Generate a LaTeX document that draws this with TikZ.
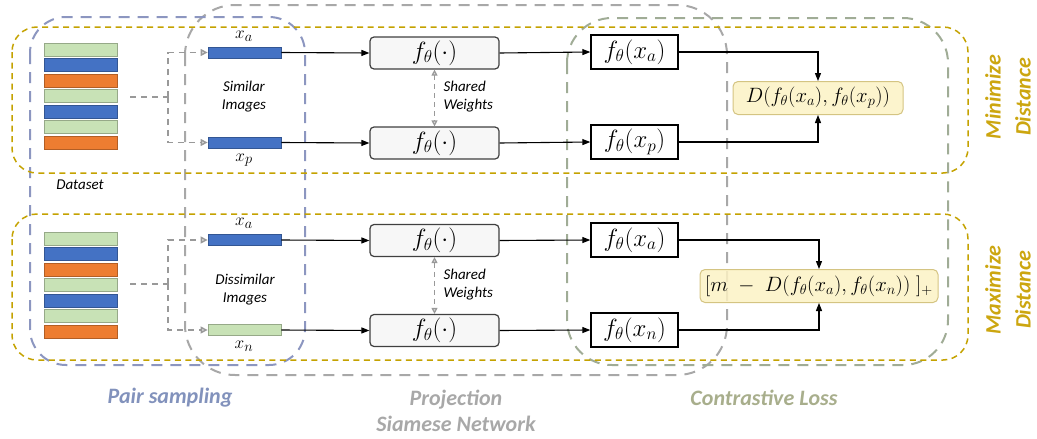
\documentclass[tikz,border=0pt]{standalone}
\usepackage{fontspec}
\setmainfont{Carlito}
\usetikzlibrary{arrows.meta}

\definecolor{bandgold}{RGB}{196,162,0}
\definecolor{pairblue}{RGB}{140,150,192}
\definecolor{pairtxt}{RGB}{130,146,188}
\definecolor{projgray}{RGB}{168,168,168}
\definecolor{projtxt}{RGB}{168,168,168}
\definecolor{lossgrp}{RGB}{160,172,150}
\definecolor{losstxt}{RGB}{168,174,140}
\definecolor{sgreen}{RGB}{200,226,182}
\definecolor{sblue}{RGB}{68,114,196}
\definecolor{sorange}{RGB}{237,125,49}
\definecolor{lossfill}{RGB}{252,242,196}
\definecolor{lossedge}{RGB}{212,196,130}
\definecolor{labgold}{RGB}{204,166,16}

\begin{document}
\begin{tikzpicture}[x=1pt,y=-1pt,
  yband/.style={draw=bandgold, line width=1.5pt, dash pattern=on 6pt off 4.5pt, rounded corners=25pt},
  pairgrp/.style={draw=pairblue, line width=2pt, dash pattern=on 11pt off 8pt, rounded corners=36pt},
  projgrp/.style={draw=projgray, line width=2pt, dash pattern=on 11pt off 8pt, rounded corners=50pt},
  lossgroup/.style={draw=lossgrp, line width=2pt, dash pattern=on 11pt off 8pt, rounded corners=45pt},
  stripe/.style={minimum width=73pt, minimum height=13pt, inner sep=0pt, line width=0.8pt},
  bar/.style={minimum width=73pt, minimum height=11pt, inner sep=0pt, line width=0.8pt},
  small/.style={font=\fontsize{15}{18}\selectfont\itshape},
  vlab/.style={font=\fontsize{19}{22}\selectfont, inner sep=0pt},
  fbox/.style={draw=black!75, fill=black!3, rounded corners=4pt, line width=1.2pt,
    minimum width=129pt, minimum height=32pt, inner sep=0pt, font=\fontsize{23}{26}\selectfont},
  obox/.style={draw=black, fill=white, line width=1.3pt, minimum width=87pt,
    minimum height=34pt, inner sep=0pt, font=\fontsize{23}{26}\selectfont},
  lbox/.style={draw=lossedge, fill=lossfill, fill opacity=0.85, text opacity=1, rounded corners=5pt,
    line width=1pt, minimum height=33pt, inner sep=0pt},
  conn/.style={draw=black, line width=1.1pt, -{Triangle[length=8pt,width=6pt]}},
  dconn/.style={draw=black!40, line width=1.4pt, dash pattern=on 6pt off 5pt},
  dtip/.style={-{Triangle[open,length=7pt,width=7pt,fill=black!15]}},
  shared/.style={draw=black!40, line width=1.2pt, dash pattern=on 5pt off 4pt,
    {Triangle[open,length=6pt,width=6pt,fill=black!15]}-{Triangle[open,length=6pt,width=6pt,fill=black!15]}},
  biglab/.style={font=\fontsize{22}{26}\selectfont\bfseries\itshape, align=center},
  sidelab/.style={font=\fontsize{22}{30}\selectfont\bfseries\itshape, align=center, text=labgold, rotate=90}
]
\useasboundingbox (0,0) rectangle (1037,439);

% stage groups
\draw[projgrp] (185,5) rectangle (727,375);
\draw[lossgroup] (567,18) rectangle (948,365);
\draw[pairgrp] (30,17) rectangle (305,365);
\draw[yband] (12,27) rectangle (968,173);
\draw[yband] (12,214) rectangle (968,360);

% datasets
\foreach \c [count=\i] in {sgreen,sblue,sorange,sgreen,sblue,sgreen,sorange} {
  \node[stripe, fill=\c, draw=\c!75!black] (dsA\i) at (80.5,{49.5+15.5*(\i-1)}) {};
  \node[stripe, fill=\c, draw=\c!75!black] (dsB\i) at (80.5,{238.5+15.5*(\i-1)}) {};
}
\node[small] (dslab) at (80,185) {Dataset};

% sampled inputs
\node[bar, fill=sblue, draw=sblue!75!black] (xa1) at (244.5,52.5) {};
\node[bar, fill=sblue, draw=sblue!75!black] (xp) at (244.5,142.5) {};
\node[bar, fill=sblue, draw=sblue!75!black] (xa2) at (244.5,240) {};
\node[bar, fill=sgreen, draw=sgreen!75!black] (xn) at (244.5,330) {};
\node[vlab] (lxa1) at (244,36) {$x_a$};
\node[vlab] (lxp) at (244,160) {$x_p$};
\node[vlab] (lxa2) at (244,223) {$x_a$};
\node[vlab] (lxn) at (244,346) {$x_n$};
\node[small, align=center] (simlab) at (244,97) {Similar\\Images};
\node[small, align=center] (dislab) at (245,290) {Dissimilar\\Images};

% sampling connectors
\coordinate (dsAout) at (130,97);
\coordinate (jA) at (168,97);
\coordinate (dsBout) at (130,284);
\coordinate (jB) at (168,284);
\draw[dconn] (dsAout) -- (jA);
\draw[dconn, dtip] (jA) |- (xa1.west);
\draw[dconn, dtip] (jA) |- (xp.west);
\draw[dconn] (dsBout) -- (jB);
\draw[dconn, dtip] (jB) |- (xa2.west);
\draw[dconn, dtip] (jB) |- (xn.west);

% siamese encoders
\node[fbox] (f1) at (434.5,53) {$f_\theta(\cdot)$};
\node[fbox] (f2) at (434.5,143) {$f_\theta(\cdot)$};
\node[fbox] (f3) at (434.5,240.5) {$f_\theta(\cdot)$};
\node[fbox] (f4) at (434.5,330.5) {$f_\theta(\cdot)$};
\draw[shared] (f1.south) -- (f2.north);
\draw[shared] (f3.south) -- (f4.north);
\node[small, align=left, anchor=west] (sw1) at (440,97) {Shared\\Weights};
\node[small, align=left, anchor=west] (sw2) at (440,285) {Shared\\Weights};

% projections
\node[obox] (o1) at (634.5,52) {$f_\theta(x_a)$};
\node[obox] (o2) at (634.5,142) {$f_\theta(x_p)$};
\node[obox] (o3) at (634.5,240) {$f_\theta(x_a)$};
\node[obox] (o4) at (634.5,330) {$f_\theta(x_n)$};

% losses
\node[lbox, minimum width=170pt, font=\fontsize{21}{24}\selectfont] (L1) at (818,98) {$D(f_\theta(x_a),f_\theta(x_p))$};
\node[lbox, minimum width=238pt, font=\fontsize{20}{24}\selectfont] (L2) at (819,286) {$[m\;-\;D(f_\theta(x_a),f_\theta(x_n))\;]_+$};

% flow
\draw[conn] (xa1.east) -- (f1.west);
\draw[conn] (xp.east) -- (f2.west);
\draw[conn] (xa2.east) -- (f3.west);
\draw[conn] (xn.east) -- (f4.west);
\draw[conn] (f1.east) -- (o1.west);
\draw[conn] (f2.east) -- (o2.west);
\draw[conn] (f3.east) -- (o3.west);
\draw[conn] (f4.east) -- (o4.west);
\draw[conn] (o1.east) -| (L1.north);
\draw[conn] (o2.east) -| (L1.south);
\draw[conn] (o3.east) -| (L2.north);
\draw[conn] (o4.east) -| (L2.south);

% side and stage titles
\node[sidelab] (minlab) at (1008,97) {Minimize\\Distance};
\node[sidelab] (maxlab) at (1008,290) {Maximize\\Distance};
\node[biglab, text=pairtxt] (pairlab) at (170,398) {Pair sampling};
\node[biglab, text=projtxt] (projlab) at (456,411) {Projection\\Siamese Network};
\node[biglab, text=losstxt] (losslab) at (764,398) {Contrastive Loss};
\end{tikzpicture}
\end{document}
